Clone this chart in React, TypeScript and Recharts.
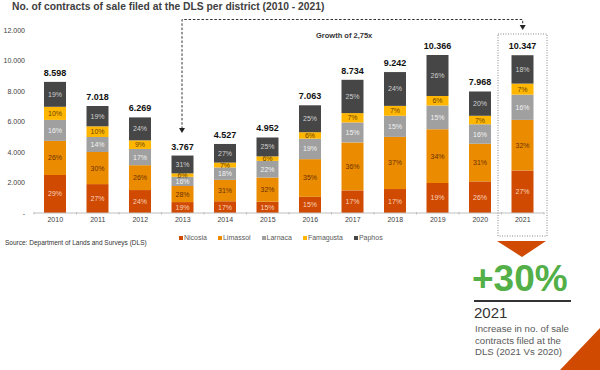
import React from 'react';
import { BarChart, Bar, XAxis, YAxis, LabelList } from 'recharts';

const years = ['2010', '2011', '2012', '2013', '2014', '2015', '2016', '2017', '2018', '2019', '2020', '2021'];
const totals = [8598, 7018, 6269, 3767, 4527, 4952, 7063, 8734, 9242, 10366, 7968, 10347];
const nicosiaPct = [29, 27, 24, 19, 17, 15, 15, 17, 17, 19, 26, 27];
const limassolPct = [26, 30, 26, 28, 31, 32, 35, 36, 37, 34, 31, 32];
const larnacaPct = [16, 14, 17, 16, 18, 22, 19, 15, 15, 15, 16, 16];
const famagustaPct = [10, 10, 9, 6, 7, 6, 6, 7, 7, 6, 7, 7];
const paphosPct = [19, 19, 24, 31, 27, 25, 25, 25, 24, 26, 20, 18];
const yTicks = [0, 2000, 4000, 6000, 8000, 10000, 12000];

const series = [
  { name: 'Nicosia', pct: nicosiaPct, color: '#D04A02', text: '#F9D3BE' },
  { name: 'Limassol', pct: limassolPct, color: '#EB8C00', text: '#6B3000' },
  { name: 'Larnaca', pct: larnacaPct, color: '#A0A0A0', text: '#F2F2F2' },
  { name: 'Famagusta', pct: famagustaPct, color: '#FFB600', text: '#6B3F00' },
  { name: 'Paphos', pct: paphosPct, color: '#464646', text: '#D0D0D0' },
];

const data = years.map((year, i) => {
  const row: any = { year, total: totals[i] };
  series.forEach(s => {
    row[s.name] = (totals[i] * s.pct[i]) / 100;
    row[s.name + '_pct'] = s.pct[i];
  });
  return row;
});

const fmt = (v: number) => String(v).replace(/\B(?=(\d{3})+(?!\d))/g, '.');
const FONT = '"Liberation Sans", Arial, sans-serif';
const HALF_BAND = 21.25;

const YTick = (props: any) => {
  const { y, payload } = props;
  return (
    <text x={25} y={y} dy={2.5} textAnchor="end" fontSize={7} fill="#404040" fontFamily={FONT}>
      {payload.value === 0 ? '-' : fmt(payload.value)}
    </text>
  );
};

// year label plus the small tick marks that sit between categories
const XTick = (props: any) => {
  const { x, y, payload, index } = props;
  const axisY = y - 1;
  return (
    <g>
      <line x1={x - HALF_BAND} x2={x - HALF_BAND} y1={axisY} y2={axisY + 2.5} stroke="#BFBFBF" />
      {index === years.length - 1 && (
        <line x1={x + HALF_BAND} x2={x + HALF_BAND} y1={axisY} y2={axisY + 2.5} stroke="#BFBFBF" />
      )}
      <text x={x} y={y + 9} textAnchor="middle" fontSize={7} fill="#404040" fontFamily={FONT}>
        {payload.value}
      </text>
    </g>
  );
};

const App = () => {
  return (
    <div style={{ position: 'absolute', left: 0, top: 0, width: 600, height: 370, background: '#fff', fontFamily: FONT }}>
      <div style={{ position: 'absolute', left: 12, top: 1, fontSize: 10.3, fontWeight: 700, color: '#404040', whiteSpace: 'nowrap' }}>
        No. of contracts of sale filed at the DLS per district (2010 - 2021)
      </div>

      <BarChart
        width={600}
        height={370}
        data={data}
        margin={{ top: 30, right: 56, left: 0, bottom: 137 }}
        style={{ position: 'absolute', left: 0, top: 0 }}
      >
        <XAxis
          dataKey="year"
          tickLine={false}
          axisLine={{ stroke: '#BFBFBF' }}
          tick={<XTick />}
          tickMargin={0}
          tickSize={0}
          height={20}
          interval={0}
        />
        <YAxis
          width={34}
          domain={[0, 12000]}
          ticks={yTicks}
          axisLine={false}
          tickLine={false}
          tick={<YTick />}
        />
        {series.map((s, idx) => (
          <Bar key={s.name} dataKey={s.name} stackId="a" fill={s.color} barSize={22} isAnimationActive={false}>
            <LabelList
              dataKey={s.name + '_pct'}
              position="center"
              formatter={(v: any) => `${v}%`}
              fill={s.text}
              fontSize={7}
              fontFamily={FONT}
            />
            {idx === series.length - 1 && (
              <LabelList
                dataKey="total"
                position="top"
                offset={6}
                formatter={(v: any) => fmt(v)}
                fill="#111"
                fontSize={9}
                fontWeight={700}
                fontFamily={FONT}
              />
            )}
          </Bar>
        ))}
      </BarChart>

      <svg width={600} height={370} style={{ position: 'absolute', left: 0, top: 0, pointerEvents: 'none' }}>
        <path d="M182 129 V19.5 H522.7 V26" fill="none" stroke="#333" strokeWidth={1} strokeDasharray="2.5 1.8" />
        <polygon points="179,128 185,128 182,133" fill="#222" />
        <polygon points="519.7,25 525.7,25 522.7,30" fill="#222" />
        <rect x={498} y={34} width={49} height={202} fill="none" stroke="#888" strokeWidth={1} strokeDasharray="1 1.5" />
        <polygon points="497,241 546,241 522,257" fill="#D04A02" />
        <polygon points="560,370 600,370 600,328" fill="#D04A02" />
        <line x1={474} x2={571} y1={301} y2={301} stroke="#333" strokeWidth={2.2} />
        <text x={316} y={38} fontSize={7.5} fontWeight={700} fill="#333" fontFamily={FONT}>Growth of 2,75x</text>
      </svg>

      <div style={{ position: 'absolute', left: 179, top: 234, display: 'flex', gap: 11, fontSize: 7, color: '#595959' }}>
        {series.map(s => (
          <span key={s.name} style={{ display: 'flex', alignItems: 'center' }}>
            <span style={{ display: 'inline-block', width: 4, height: 4, background: s.color, marginRight: 1 }} />
            {s.name}
          </span>
        ))}
      </div>

      <div style={{ position: 'absolute', left: 5, top: 239, fontSize: 6.5, color: '#333', whiteSpace: 'nowrap' }}>
        Source: Department of Lands and Surveys (DLS)
      </div>

      <div style={{ position: 'absolute', left: 472, top: 259, fontSize: 37, fontWeight: 700, color: '#53AF47', lineHeight: '40px', whiteSpace: 'nowrap' }}>
        +30%
      </div>
      <div style={{ position: 'absolute', left: 474, top: 304, fontSize: 15, color: '#333', lineHeight: '18px' }}>
        2021
      </div>
      <div style={{ position: 'absolute', left: 475, top: 323, width: 125, fontSize: 9.6, color: '#595959', lineHeight: '11.5px' }}>
        Increase in no. of sale<br />contracts filed at the<br />DLS (2021 Vs 2020)
      </div>
    </div>
  );
};

export default App;
